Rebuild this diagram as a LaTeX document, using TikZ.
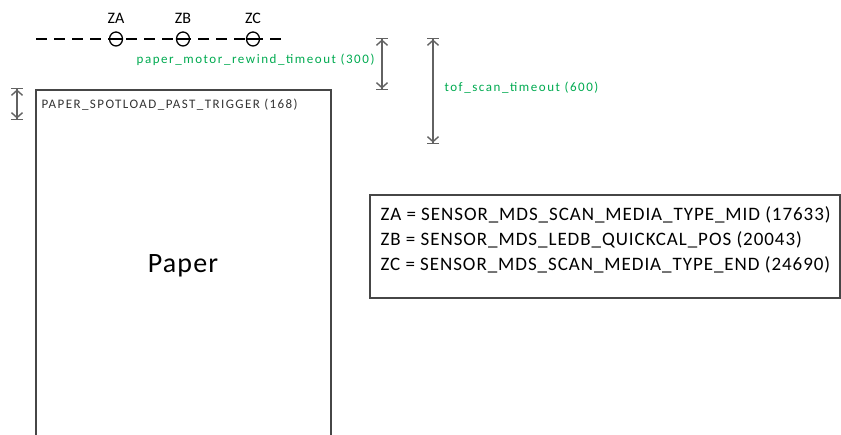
\documentclass[tikz,border=0pt]{standalone}
\usepackage{fontspec}
\setmainfont{Carlito}
\usetikzlibrary{arrows.meta}
\definecolor{timegreen}{RGB}{0,170,80}
\definecolor{edgegray}{RGB}{70,70,70}
\tikzset{
  dim/.style={line width=1.4pt, draw=edgegray!85,
    {Bar[width=12pt]Straight Barb[length=5pt,width=11pt]}-{Straight Barb[length=5pt,width=11pt]Bar[width=12pt]}},
  sensor/.style={draw=black, fill=white, line width=1.3pt, ellipse, minimum width=13pt, minimum height=14pt, inner sep=0pt},
  timeout/.style={text=timegreen, font=\fontsize{13}{15}\selectfont\addfontfeatures{LetterSpace=12}},
  legend/.style={anchor=west, font=\fontsize{19}{21}\selectfont\addfontfeatures{LetterSpace=5}},
}
\usetikzlibrary{shapes.geometric}
\begin{document}
\begin{tikzpicture}[x=1pt, y=-1pt]
\useasboundingbox (0,0) rectangle (841,435);
\clip (0,0) rectangle (841,435);
\def\ys{39}
% sensor line
\coordinate (L0) at (36,\ys);
\coordinate (L1) at (282,\ys);
\draw[line width=1.2pt, dash pattern=on 11pt off 7pt] (L0) -- (L1);
\foreach \n/\x in {ZA/116, ZB/183, ZC/253} {
  \node[sensor] (\n) at (\x,\ys) {};
  \draw[line width=1.3pt] (\n.west) -- (\n.east);
  \node[font=\fontsize{16}{18}\selectfont] at (\x,18) {\n};
}
% timeouts
\coordinate (R1) at (382,38);
\coordinate (R2) at (382,90);
\coordinate (T1) at (433,38);
\coordinate (T2) at (433,144);
\draw[dim] (R1) -- (R2);
\draw[dim] (T1) -- (T2);
\node[timeout, anchor=east] (rewind) at (378,60) {paper\_motor\_rewind\_timeout (300)};
\node[timeout, anchor=west] (tof) at (441,88) {tof\_scan\_timeout (600)};
% paper
\draw[line width=1.6pt, draw=edgegray] (36,440) -- (36,90) -- (331,90) -- (331,440);
\coordinate (S1) at (17,88);
\coordinate (S2) at (17,120);
\draw[dim] (S1) -- (S2);
\node[anchor=west, text=black!80, font=\fontsize{13}{15}\selectfont\addfontfeatures{LetterSpace=11}] (spot) at (38,105) {PAPER\_SPOTLOAD\_PAST\_TRIGGER (168)};
\node[font=\fontsize{28}{32}\selectfont\addfontfeatures{LetterSpace=4}] (paper) at (183,266) {Paper};
% legend
\draw[line width=1.6pt, draw=edgegray] (370,195) rectangle (840,298);
\node[legend] (za) at (377,215) {ZA = SENSOR\_MDS\_SCAN\_MEDIA\_TYPE\_MID (17633)};
\node[legend] (zb) at (377,240) {ZB = SENSOR\_MDS\_LEDB\_QUICKCAL\_POS (20043)};
\node[legend] (zc) at (377,265) {ZC = SENSOR\_MDS\_SCAN\_MEDIA\_TYPE\_END (24690)};
\end{tikzpicture}
\end{document}
